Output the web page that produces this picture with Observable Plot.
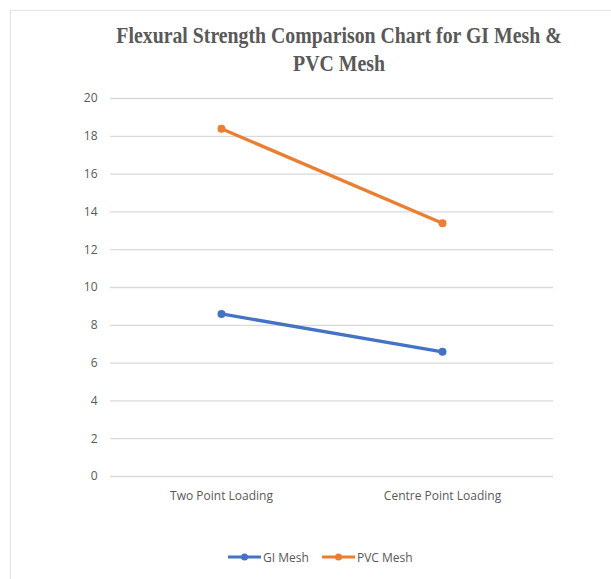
<!DOCTYPE html>
<html>
<head>
<meta charset="utf-8">
<script src="https://cdn.jsdelivr.net/npm/d3@7"></script>
<script src="https://cdn.jsdelivr.net/npm/@observablehq/plot@0.6"></script>
<style>
  html, body { margin: 0; padding: 0; background: #fff; }
  #page { position: relative; width: 611px; height: 579px; overflow: hidden; }
  #frame { position: absolute; left: 10px; top: 10px; width: 640px; height: 600px; border: 1px solid #e2e2e2; box-sizing: border-box; }
  #title { position: absolute; left: 0; top: 22px; width: 678px; text-align: center;
    font-family: "Liberation Serif", "DejaVu Serif", serif; font-weight: bold; font-size: 22.5px;
    line-height: 28px; color: #595959; transform: scaleX(0.88); transform-origin: 339px 0; }
  #chart { position: absolute; left: 0; top: 85px; }
  #legend { position: absolute; left: 0; top: 548px; width: 611px; height: 20px;
    font-family: "Open Sans", sans-serif; font-size: 12px; color: #595959; }
  .lg { position: absolute; top: 0; display: flex; align-items: center; height: 18px; }
  .lg svg { margin-right: 2px; }
</style>
</head>
<body>
<div id="page">
  <div id="frame"></div>
  <div id="title">Flexural Strength Comparison Chart for GI Mesh &amp;<br>PVC Mesh</div>
  <div id="chart"></div>
  <div id="legend"></div>
</div>
<script>
const categories = ["Two Point Loading", "Centre Point Loading"];
const seriesNames = ["GI Mesh", "PVC Mesh"];
const giValues = [8.6, 6.6];
const pvcValues = [18.4, 13.4];
const yTicks = [0, 2, 4, 6, 8, 10, 12, 14, 16, 18, 20];
const colors = ["#4472C4", "#ED7D31"];

const data = [];
categories.forEach((c, i) => {
  data.push({category: c, series: seriesNames[0], value: giValues[i]});
  data.push({category: c, series: seriesNames[1], value: pvcValues[i]});
});

const font = "'Open Sans', sans-serif";

const chart = Plot.plot({
  width: 611,
  height: 440,
  marginTop: 13,
  marginBottom: 49,
  marginLeft: 110,
  marginRight: 58,
  style: {fontFamily: font, fontSize: "12px", color: "#595959", background: "transparent"},
  x: {type: "point", domain: categories, padding: 0.5, label: null, tickSize: 0, tickPadding: 15},
  y: {domain: [0, 20], ticks: yTicks, label: null, tickSize: 0, tickPadding: 13},
  color: {domain: seriesNames, range: colors},
  marks: [
    Plot.gridY(yTicks, {stroke: "#d9d9d9", strokeOpacity: 1, strokeWidth: 1.3}),
    Plot.axisX({tickSize: 0, tickPadding: 15, label: null, fontSize: 12}),
    Plot.axisY({ticks: yTicks, tickSize: 0, tickPadding: 13, label: null, fontSize: 12}),
    Plot.line(data, {x: "category", y: "value", z: "series", stroke: "series", strokeWidth: 3.3}),
    Plot.dot(data, {x: "category", y: "value", fill: "series", r: 4})
  ]
});
document.getElementById("chart").appendChild(chart);

const legend = document.getElementById("legend");
const lefts = [228, 322];
seriesNames.forEach((name, i) => {
  const item = document.createElement("div");
  item.className = "lg";
  item.style.left = lefts[i] + "px";
  item.innerHTML = `<svg width="33" height="10"><line x1="0" x2="33" y1="5" y2="5" stroke="${colors[i]}" stroke-width="3"/><circle cx="16.5" cy="5" r="3.5" fill="${colors[i]}"/></svg><span>${name}</span>`;
  legend.appendChild(item);
});
</script>
</body>
</html>
